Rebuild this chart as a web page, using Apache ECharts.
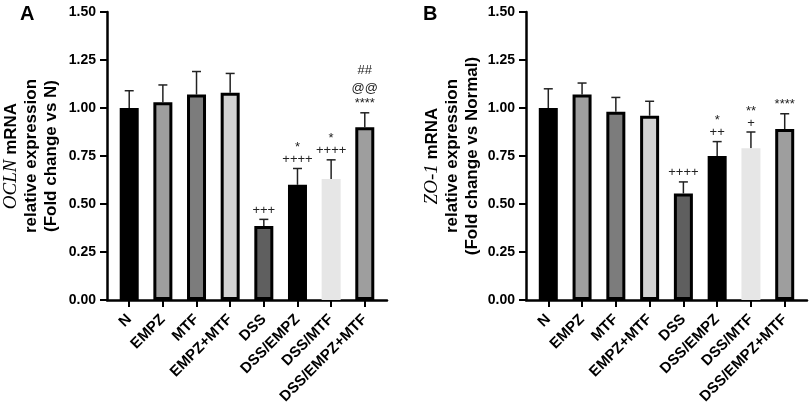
<!DOCTYPE html>
<html>
<head>
<meta charset="utf-8">
<script src="https://cdn.jsdelivr.net/npm/echarts@6/dist/echarts.min.js"></script>
<style>
  html, body { margin: 0; padding: 0; background: #fff; }
  #chart { width: 809px; height: 413px; }
</style>
</head>
<body>
<div id="chart"></div>
<script>
const groups = ['N', 'EMPZ', 'MTF', 'EMPZ+MTF', 'DSS', 'DSS/EMPZ', 'DSS/MTF', 'DSS/EMPZ+MTF'];

const ocln = [1.00, 1.03, 1.07, 1.08, 0.385, 0.60, 0.63, 0.90];
const oclnErr = [1.09, 1.12, 1.19, 1.18, 0.42, 0.685, 0.73, 0.975];
const oclnMarks = ['', '', '', '', '+++', '*\n++++', '*\n++++', '##\n@@\n****'];

const zo1 = [1.00, 1.07, 0.98, 0.96, 0.555, 0.75, 0.79, 0.89];
const zo1Err = [1.10, 1.13, 1.055, 1.035, 0.615, 0.825, 0.875, 0.97];
const zo1Marks = ['', '', '', '', '++++', '*\n++', '**\n+', '****'];

const fills = ['#000000', '#9e9e9e', '#7c7c7c', '#d2d2d2', '#5f5f5f', '#000000', '#e6e6e6', '#9e9e9e'];
const borders = ['#000', '#000', '#000', '#000', '#000', '#000', '#e6e6e6', '#000'];

const chart = echarts.init(document.getElementById('chart'));
const font = 'Liberation Sans, Arial, sans-serif';
const idx = groups.map((g, i) => i);

function xAxisFor(gi) {
  return {
    type: 'value', gridIndex: gi, min: -0.66, max: 7.66,
    splitLine: { show: false },
    axisLine: { show: true, onZero: false, lineStyle: { color: '#000', width: 2.5 } },
    axisTick: { show: true, customValues: idx, length: 7, lineStyle: { color: '#000', width: 2 } },
    axisLabel: {
      customValues: idx, rotate: 45, margin: 17,
      formatter: v => groups[v] || '',
      color: '#000', fontFamily: font, fontWeight: 'bold', fontSize: 15
    }
  };
}

function yAxisFor(gi, gene, tail, gap) {
  return {
    type: 'value', gridIndex: gi, min: 0, max: 1.5, interval: 0.25,
    splitLine: { show: false },
    axisLine: { show: true, onZero: false, lineStyle: { color: '#000', width: 2.5 } },
    axisTick: { show: true, length: 7, lineStyle: { color: '#000', width: 2 } },
    axisLabel: {
      formatter: v => v.toFixed(2), margin: 11,
      color: '#000', fontFamily: font, fontWeight: 'bold', fontSize: 14
    },
    name: '{i|' + gene + '}{b| mRNA}\n{b|relative expression}\n{b|(Fold change vs ' + tail + ')}',
    nameLocation: 'middle', nameRotate: 90, nameGap: gap,
    nameTextStyle: {
      lineHeight: 20,
      rich: {
        i: { fontFamily: 'Liberation Serif, serif', fontStyle: 'italic', fontSize: 19, color: '#000', lineHeight: 20 },
        b: { fontFamily: font, fontWeight: 'bold', fontSize: 17, color: '#000', lineHeight: 20 }
      }
    }
  };
}

// '@' and '#' rows sit further apart than '*' and '+' rows
function markText(s) {
  return s.split('\n').map(l => (/[@#]/.test(l) ? '{w|' : '{n|') + l + '}').join('\n');
}

function barSeries(gi, vals) {
  return {
    type: 'bar', xAxisIndex: gi, yAxisIndex: gi, barWidth: 19, z: 3,
    data: vals.map((v, i) => ({
      value: [i, v],
      itemStyle: { color: fills[i], borderColor: borders[i], borderWidth: 3 }
    }))
  };
}

function errSeries(gi, vals, errs, marks) {
  return {
    type: 'custom', xAxisIndex: gi, yAxisIndex: gi, z: 2,
    data: vals.map((v, i) => [i, v, errs[i]]),
    renderItem: (params, api) => {
      const i = params.dataIndex;
      const base = api.coord([api.value(0), api.value(1)]);
      const top = api.coord([api.value(0), api.value(2)]);
      const children = [
        { type: 'line', shape: { x1: base[0], y1: base[1], x2: top[0], y2: top[1] },
          style: { stroke: '#222', lineWidth: 1.5 } },
        { type: 'line', shape: { x1: top[0] - 4.5, y1: top[1], x2: top[0] + 4.5, y2: top[1] },
          style: { stroke: '#222', lineWidth: 1.5 } }
      ];
      if (marks[i]) {
        children.push({
          type: 'text', z2: 10,
          style: {
            x: top[0], y: top[1] - 3, text: markText(marks[i]),
            align: 'center', verticalAlign: 'bottom',
            rich: {
              n: { fontFamily: font, fontSize: 13, lineHeight: 12, fill: '#222', align: 'center' },
              w: { fontFamily: font, fontSize: 13, lineHeight: 18, fill: '#222', align: 'center' }
            }
          }
        });
      }
      return { type: 'group', children };
    }
  };
}

chart.setOption({
  animation: false,
  backgroundColor: '#fff',
  title: [
    { text: 'A', left: 15, top: -1, textStyle: { fontFamily: font, fontWeight: 'bold', fontSize: 20, color: '#000' } },
    { text: 'B', left: 418, top: -1, textStyle: { fontFamily: font, fontWeight: 'bold', fontSize: 20, color: '#000' } }
  ],
  grid: [
    { left: 107, top: 12, width: 280, height: 288 },
    { left: 526, top: 12, width: 281, height: 288 }
  ],
  xAxis: [xAxisFor(0), xAxisFor(1)],
  yAxis: [yAxisFor(0, 'OCLN', 'N', 46), yAxisFor(1, 'ZO-1', 'Normal', 44)],
  series: [
    barSeries(0, ocln), errSeries(0, ocln, oclnErr, oclnMarks),
    barSeries(1, zo1), errSeries(1, zo1, zo1Err, zo1Marks)
  ]
});

window.addEventListener('resize', () => chart.resize());
</script>
</body>
</html>
